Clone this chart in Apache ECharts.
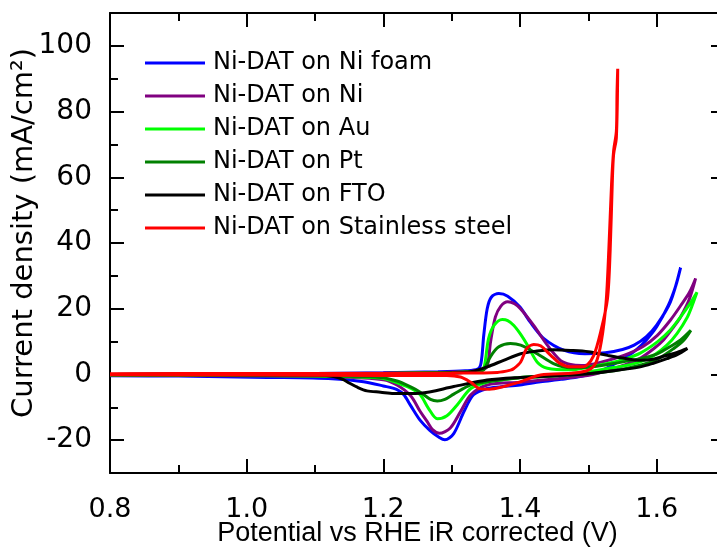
<!DOCTYPE html>
<html>
<head>
<meta charset="utf-8">
<script src="https://cdn.jsdelivr.net/npm/echarts@6.0.0/dist/echarts.min.js"></script>
<style>
html,body{margin:0;padding:0;background:#fff;}
#chart{width:717px;height:550px;}
</style>
</head>
<body>
<div id="chart"></div>
<script>
// ---- axis ticks ----
const xMajorTicks = [0.8, 1.0, 1.2, 1.4, 1.6];
const xMinorTicks = [0.9, 1.1, 1.3, 1.5, 1.7];
const yMajorTicks = [-20, 0, 20, 40, 60, 80, 100];
const yMinorTicks = [-10, 10, 30, 50, 70, 90];

// ---- series names ----
const seriesNames = [
  'Ni-DAT on Ni foam',
  'Ni-DAT on Ni',
  'Ni-DAT on Au',
  'Ni-DAT on Pt',
  'Ni-DAT on FTO',
  'Ni-DAT on Stainless steel'
];

// ---- CV loops: [potential (V), current density (mA/cm2)], forward sweep then return sweep ----
const niFoam = [
  [0.80,0.0],[0.90,0.1],[1.00,0.2],[1.10,0.3],[1.20,0.5],[1.28,0.8],[1.32,1.1],[1.338,1.6],[1.343,3.5],
  [1.347,12],[1.352,20],[1.358,23.5],[1.369,24.6],[1.382,23.8],[1.40,20.5],[1.415,15.9],[1.435,10.9],
  [1.465,7.3],[1.495,6.3],[1.525,6.6],[1.55,7.6],[1.567,8.9],[1.585,11.5],[1.60,15],[1.62,22],[1.635,32.5],
  [1.628,27],[1.617,21],[1.60,14.5],[1.585,10.5],[1.57,7.5],[1.557,5.5],[1.535,2.8],[1.518,1.0],[1.49,-0.6],
  [1.46,-1.5],[1.43,-2.2],[1.40,-3.2],[1.37,-3.8],[1.352,-4.3],[1.332,-6.2],[1.318,-11.3],[1.303,-18.0],
  [1.290,-19.9],[1.282,-19.2],[1.268,-17],[1.254,-14],[1.240,-9.5],[1.230,-6.2],[1.220,-4.6],[1.20,-3.5],
  [1.171,-2.2],[1.125,-1.3],[1.03,-0.9],[0.90,-0.5],[0.80,-0.4]
];
const niPlate = [
  [0.80,0.0],[0.90,0.1],[1.00,0.2],[1.10,0.3],[1.20,0.4],[1.28,0.6],[1.33,1.0],[1.345,1.5],[1.352,2.5],
  [1.357,10],[1.364,17.5],[1.372,20.8],[1.382,22.1],[1.392,21.5],[1.401,19.9],[1.420,14.9],[1.440,8.9],
  [1.459,4.3],[1.474,3.0],[1.49,2.7],[1.52,3.8],[1.552,5.8],[1.58,8.5],[1.601,11.9],[1.62,16.5],[1.635,20.9],
  [1.648,25],[1.657,29.2],
  [1.648,23],[1.635,17.5],[1.625,14.5],[1.61,10.5],[1.596,7.9],[1.575,4.8],[1.552,2.8],[1.525,1.0],[1.503,-0.2],
  [1.47,-1.0],[1.43,-1.8],[1.40,-2.4],[1.352,-3.2],[1.328,-6.2],[1.313,-11.3],[1.298,-16.3],[1.282,-17.9],
  [1.272,-16.8],[1.264,-14.3],[1.254,-11.3],[1.240,-6.5],[1.220,-3.2],[1.20,-1.6],[1.127,-0.7],[1.00,-0.4],[0.80,-0.2]
];
const auPlate = [
  [0.80,0.0],[1.00,0.1],[1.20,0.3],[1.30,0.6],[1.34,1.0],[1.347,1.8],[1.354,10.9],[1.362,14.9],[1.374,16.7],
  [1.382,16.4],[1.391,14.9],[1.401,12.2],[1.411,8.9],[1.425,3.8],[1.440,1.9],[1.474,1.4],[1.50,2.2],[1.528,3.3],
  [1.552,4.6],[1.576,6.5],[1.601,9.9],[1.62,13.5],[1.635,17.5],[1.648,21.3],[1.659,25],
  [1.652,21],[1.645,17.5],[1.63,12.5],[1.615,8.9],[1.596,5.8],[1.576,3.8],[1.552,2.6],[1.528,1.8],[1.50,0.8],
  [1.43,-0.6],[1.401,-0.9],[1.375,-1.6],[1.352,-2.3],[1.328,-4.3],[1.308,-9.3],[1.293,-12.6],[1.279,-13.5],
  [1.266,-10.3],[1.254,-6.2],[1.240,-4.2],[1.225,-2.9],[1.196,-1.1],[1.10,-0.5],[0.80,-0.2]
];
const ptPlate = [
  [0.80,0.0],[1.00,0.1],[1.20,0.3],[1.30,0.6],[1.34,1.0],[1.347,1.4],[1.357,5.5],[1.369,8.4],[1.386,9.4],
  [1.401,8.9],[1.425,6.3],[1.449,3.3],[1.474,2.0],[1.50,2.2],[1.528,3.0],[1.576,4.8],[1.60,6.2],[1.615,7.9],
  [1.635,10.5],[1.650,13.4],
  [1.640,10.5],[1.625,7.9],[1.60,4.5],[1.576,2.8],[1.54,1.2],[1.503,0.3],[1.43,-0.7],[1.40,-1.0],[1.352,-2.2],
  [1.328,-3.2],[1.303,-6.0],[1.29,-7.6],[1.279,-8.1],[1.269,-7.6],[1.254,-5.4],[1.240,-3.8],[1.220,-2.0],
  [1.196,-0.9],[1.10,-0.4],[0.80,-0.2]
];
const ftoPlate = [
  [0.80,0.0],[1.00,0.1],[1.20,0.2],[1.30,0.4],[1.328,0.8],[1.352,2.3],[1.376,4.3],[1.401,6.3],[1.425,7.1],
  [1.449,7.5],[1.474,7.3],[1.50,6.9],[1.528,5.8],[1.55,5.0],[1.576,4.3],[1.595,4.6],[1.611,5.6],[1.63,6.7],[1.645,7.9],
  [1.63,6.0],[1.615,4.8],[1.595,3.4],[1.576,2.3],[1.54,1.2],[1.503,0.3],[1.45,-0.4],[1.40,-0.9],[1.352,-1.7],
  [1.303,-3.7],[1.254,-5.7],[1.215,-5.8],[1.196,-5.4],[1.176,-5.0],[1.162,-3.9],[1.150,-2.6],[1.140,-1.4],
  [1.127,-0.6],[1.10,-0.2],[0.80,0.0]
];
const ssPlate = [
  [0.80,0.2],[1.00,0.3],[1.20,0.3],[1.30,0.4],[1.367,0.6],[1.386,1.3],[1.391,1.8],[1.401,3.8],[1.410,7.9],
  [1.420,9.1],[1.430,8.7],[1.445,5.8],[1.459,3.3],[1.474,2.3],[1.49,2.3],[1.498,2.8],[1.508,5.8],[1.518,12.9],
  [1.528,23],[1.532,38],[1.535,58],[1.537,67],[1.541,72],[1.543,93],
  [1.542,86],[1.541,74],[1.537,68],[1.534,58],[1.530,38],[1.526,22],[1.519,10],[1.511,3.5],[1.500,1.3],
  [1.479,0.4],[1.43,-0.2],[1.401,-2.2],[1.376,-3.7],[1.355,-4.5],[1.342,-4.4],[1.328,-2.4],[1.313,-0.8],
  [1.293,-0.3],[1.20,-0.3],[1.00,-0.2],[0.80,-0.1]
];

const seriesData = [niFoam, niPlate, auPlate, ptPlate, ftoPlate, ssPlate];
const seriesColors = ['#0000ff', '#800080', '#00ff00', '#008000', '#000000', '#ff0000'];

const tickFont = 'DejaVu Sans';
const axisCommon = {
  type: 'value',
  splitLine: { show: false },
  axisLabel: { show: false },
  axisLine: { show: false, onZero: false },
};
function xAx(position, ticks, len, line, labels) {
  return Object.assign({}, axisCommon, {
    position: position, min: 0.8, max: 1.7, gridIndex: 0,
    axisLine: { show: line, onZero: false, lineStyle: { color: '#000', width: 2 } },
    axisTick: { show: true, inside: true, length: len, customValues: ticks, lineStyle: { color: '#000', width: 2 } },
    axisLabel: labels ? {
      show: true, customValues: xMajorTicks, margin: 23, color: '#000',
      fontFamily: tickFont, fontSize: 27, alignMinLabel: 'center', alignMaxLabel: 'center',
      hideOverlap: false,
      formatter: v => Number(v).toFixed(1)
    } : { show: false }
  });
}
function yAx(position, ticks, len, line, labels) {
  return Object.assign({}, axisCommon, {
    position: position, min: -30, max: 110, gridIndex: 0,
    axisLine: { show: line, onZero: false, lineStyle: { color: '#000', width: 2 } },
    axisTick: { show: true, inside: true, length: len, customValues: ticks, lineStyle: { color: '#000', width: 2 } },
    axisLabel: labels ? {
      show: true, customValues: yMajorTicks, margin: 18, color: '#000',
      fontFamily: tickFont, fontSize: 28, hideOverlap: false
    } : { show: false }
  });
}

const xAxes = [
  xAx('bottom', xMajorTicks, 14, true, true),
  xAx('bottom', xMinorTicks, 8, false, false),
  xAx('top', xMajorTicks, 14, true, false),
  xAx('top', xMinorTicks, 8, false, false)
];
Object.assign(xAxes[0], {
  name: 'Potential vs RHE iR corrected (V)',
  nameLocation: 'middle', nameGap: 47, nameMoveOverlap: false,
  nameTextStyle: { fontFamily: 'Liberation Sans', fontSize: 27, color: '#000' }
});
const yAxes = [
  yAx('left', yMajorTicks, 14, true, true),
  yAx('left', yMinorTicks, 8, false, false),
  yAx('right', yMajorTicks, 14, true, false),
  yAx('right', yMinorTicks, 8, false, false)
];
Object.assign(yAxes[0], {
  name: 'Current density (mA/cm²)',
  nameLocation: 'middle', nameGap: 71, nameRotate: 90, nameMoveOverlap: false,
  nameTextStyle: { fontFamily: tickFont, fontSize: 29, color: '#000', padding: [0, 0, 0, 20] }
});

const series = seriesNames.map((name, i) => ({
  name: name,
  type: 'line',
  xAxisIndex: 0, yAxisIndex: 0,
  data: seriesData[i],
  showSymbol: false,
  symbol: 'none',
  smooth: 0.3,
  color: seriesColors[i],
  lineStyle: { width: 3, color: seriesColors[i] },
  clip: true,
  animation: false
}));

const chart = echarts.init(document.getElementById('chart'), null, { renderer: 'canvas' });
chart.setOption({
  animation: false,
  backgroundColor: '#ffffff',
  grid: { left: 110, right: -8, top: 13, bottom: 77, containLabel: false, outerBoundsMode: 'none' },
  legend: {
    orient: 'vertical', left: 145, top: 51, padding: 0,
    itemWidth: 60, itemHeight: 3, itemGap: 9, icon: 'rect',
    textStyle: { fontFamily: tickFont, fontSize: 24, lineHeight: 24, color: '#000', padding: [0, 0, 0, 3] },
    data: seriesNames
  },
  xAxis: xAxes,
  yAxis: yAxes,
  series: series
});
</script>
</body>
</html>
